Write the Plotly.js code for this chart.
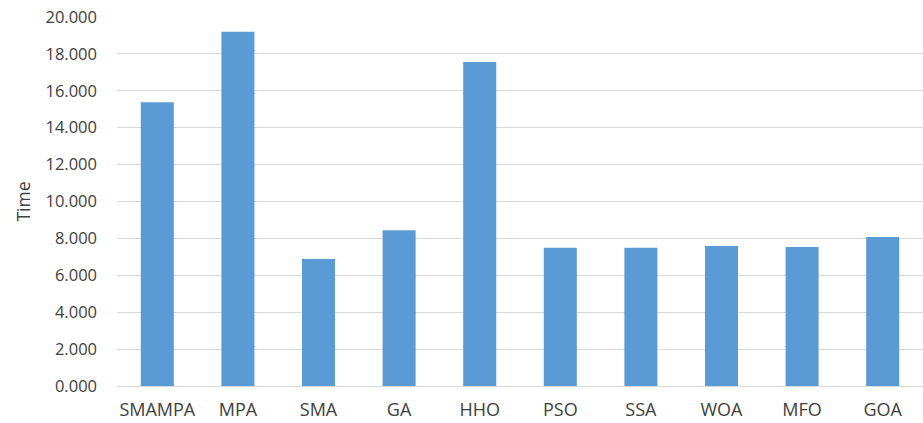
<!DOCTYPE html>
<html><head><meta charset="utf-8">
<script src="https://cdn.plot.ly/plotly-3.0.1.min.js"></script>
<style>html,body{margin:0;padding:0;background:#fff}#c{width:923px;height:423px}</style>
</head><body><div id="c"></div>
<script>
const categories = ["SMAMPA","MPA","SMA","GA","HHO","PSO","SSA","WOA","MFO","GOA"];
const timeValues = [15.38, 19.2, 6.88, 8.44, 17.56, 7.50, 7.50, 7.59, 7.53, 8.08];
const yTickValues = [0,2,4,6,8,10,12,14,16,18,20];
const yTickLabels = yTickValues.map(v => v.toFixed(3));

Plotly.newPlot('c', [{
  type: 'bar', x: categories, y: timeValues,
  marker: {color: '#5B9BD5'}, hoverinfo: 'x+y'
}], {
  width: 923, height: 423,
  margin: {l: 117, r: 0, t: 17, b: 37},
  bargap: 0.59,
  paper_bgcolor: '#fff', plot_bgcolor: '#fff',
  font: {family: 'Open Sans, sans-serif', size: 16, color: '#404040'},
  xaxis: {type: 'category', showgrid: false, showline: true, linecolor: '#d9d9d9', linewidth: 1,
          ticks: '', ticklabelstandoff: 7, tickfont: {size: 18}},
  yaxis: {range: [0, 20], tickvals: yTickValues, ticktext: yTickLabels, showgrid: true,
          gridcolor: '#d9d9d9', gridwidth: 1, zeroline: false, showline: false, ticks: '',
          ticklabelstandoff: 19, tickfont: {size: 16.5},
          title: {text: 'Time', font: {size: 17.5}, standoff: 10}},
  showlegend: false
}, {displayModeBar: false});
</script></body></html>
